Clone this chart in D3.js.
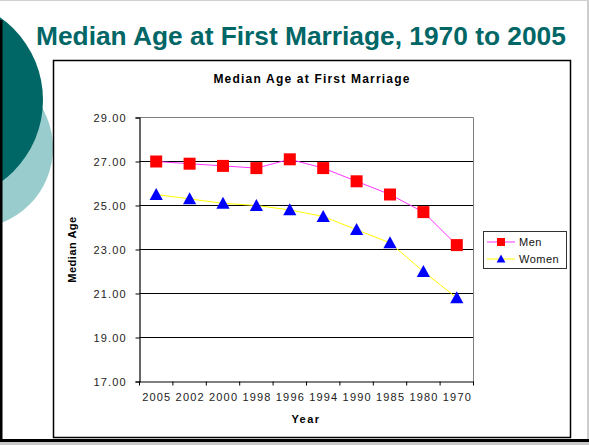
<!DOCTYPE html>
<html>
<head>
<meta charset="utf-8">
<script src="https://cdn.jsdelivr.net/npm/d3@7"></script>
<style>
  html, body { margin: 0; padding: 0; background: #fff; }
  svg { display: block; font-family: "Liberation Sans", Arial, sans-serif; }
</style>
</head>
<body>
<svg id="chart" width="589" height="445"></svg>
<script>
// Survey years, shown newest first
const years = ["2005", "2002", "2000", "1998", "1996", "1994", "1990", "1985", "1980", "1970"];
// Median age at first marriage
const men   = [27.0, 26.9, 26.8, 26.7, 27.1, 26.7, 26.1, 25.5, 24.7, 23.2];
const women = [25.5, 25.3, 25.1, 25.0, 24.8, 24.5, 23.9, 23.3, 22.0, 20.8];
const yTicks = [17, 19, 21, 23, 25, 27, 29];
const seriesNames = ["Men", "Women"];

const svg = d3.select("#chart");
const teal = "#006666";
const fontStack = "'Liberation Sans', Arial, sans-serif";

// Shrink or grow a text node's font size so it spans the given width
function fitWidth(sel, width) {
  const node = sel.node();
  const fs = parseFloat(sel.attr("font-size"));
  const w = node.getComputedTextLength();
  if (w > 0) sel.attr("font-size", (fs * width / w).toFixed(2));
}

// Slide decoration: two overlapping circles on the left edge
svg.append("circle").attr("cx", -27).attr("cy", 148).attr("r", 80).attr("fill", "#99CCCC");
svg.append("circle").attr("cx", -58).attr("cy", 100).attr("r", 101).attr("fill", teal);

// Slide frame edges
svg.append("rect").attr("x", 0).attr("y", 20).attr("width", 2.5).attr("height", 422).attr("fill", "#000");
svg.append("rect").attr("x", 0).attr("y", 439).attr("width", 589).attr("height", 3).attr("fill", "#000");
svg.append("rect").attr("x", 0).attr("y", 442).attr("width", 589).attr("height", 3).attr("fill", "#c8c8c8");
svg.append("line").attr("x1", 588).attr("x2", 588).attr("y1", 0).attr("y2", 439).attr("stroke", "#9a9a9a").attr("stroke-width", 1);
svg.append("line").attr("x1", 0).attr("x2", 589).attr("y1", 0.5).attr("y2", 0.5).attr("stroke", "#d0d0d0").attr("stroke-width", 1);

// Slide title
const slideTitle = svg.append("text")
  .attr("x", 36).attr("y", 45)
  .attr("fill", teal)
  .attr("font-weight", "bold")
  .attr("font-size", 27)
  .text("Median Age at First Marriage, 1970 to 2005");
fitWidth(slideTitle, 530);

// Chart frame
svg.append("rect")
  .attr("x", 53.5).attr("y", 60.5).attr("width", 517).attr("height", 377)
  .attr("fill", "#fff").attr("stroke", "#000").attr("stroke-width", 1.5);

// Chart title
svg.append("text")
  .attr("x", 312).attr("y", 83)
  .attr("text-anchor", "middle")
  .attr("font-weight", "bold").attr("font-size", 12).attr("letter-spacing", 1.2)
  .text("Median Age at First Marriage");

const plot = { left: 139.5, right: 473.5, top: 117.5, bottom: 381.5 };

const x = d3.scaleBand().domain(years).range([plot.left, plot.right]);
const y = d3.scaleLinear().domain([17, 29]).range([plot.bottom, plot.top]);

// Horizontal gridlines
svg.append("g")
  .selectAll("line")
  .data(yTicks.filter(t => t > 17 && t < 29))
  .join("line")
  .attr("x1", plot.left).attr("x2", plot.right)
  .attr("y1", d => y(d)).attr("y2", d => y(d))
  .attr("stroke", "#000").attr("stroke-width", 1);

// Plot area border (top and right)
svg.append("path")
  .attr("d", `M${plot.left},${plot.top}H${plot.right}V${plot.bottom}`)
  .attr("fill", "none").attr("stroke", "#808080").attr("stroke-width", 1);

// Y axis
const yAxis = svg.append("g")
  .attr("transform", `translate(${plot.left},0)`)
  .call(d3.axisLeft(y).tickValues(yTicks).tickFormat(d3.format(".2f")).tickSize(4));
yAxis.select(".domain").attr("stroke", "#000").attr("stroke-width", 1.2);
yAxis.selectAll(".tick line").attr("stroke", "#000");
yAxis.selectAll(".tick text")
  .attr("x", -14)
  .attr("text-anchor", "end")
  .attr("font-size", 11).attr("fill", "#222")
  .attr("font-family", fontStack)
  .attr("textLength", 32).attr("lengthAdjust", "spacing");

// X axis: labels centred in each band, ticks on band boundaries
const xAxis = svg.append("g")
  .attr("transform", `translate(0,${plot.bottom})`)
  .call(d3.axisBottom(x).tickSize(0).tickPadding(12));
xAxis.select(".domain").attr("stroke", "#000").attr("stroke-width", 1.2);
xAxis.selectAll(".tick text")
  .attr("font-size", 11).attr("fill", "#222")
  .attr("font-family", fontStack)
  .attr("textLength", 28).attr("lengthAdjust", "spacing");
const bounds = years.map(d => x(d)).concat([x(years[years.length - 1]) + x.bandwidth()]);
svg.append("g")
  .selectAll("line")
  .data(bounds)
  .join("line")
  .attr("x1", d => d).attr("x2", d => d)
  .attr("y1", plot.bottom).attr("y2", plot.bottom + 4)
  .attr("stroke", "#000");

// Axis titles
svg.append("text")
  .attr("x", 306).attr("y", 423)
  .attr("text-anchor", "middle")
  .attr("font-weight", "bold").attr("font-size", 11).attr("letter-spacing", 1.5)
  .text("Year");
svg.append("text")
  .attr("transform", `translate(76,${(plot.top + plot.bottom) / 2}) rotate(-90)`)
  .attr("text-anchor", "middle")
  .attr("font-weight", "bold").attr("font-size", 11).attr("letter-spacing", 0.5)
  .text("Median Age");

const cx = d => x(d) + x.bandwidth() / 2;
const line = d3.line().x(d => cx(d.year)).y(d => y(d.value));

const menData = years.map((yr, i) => ({ year: yr, value: men[i] }));
const womenData = years.map((yr, i) => ({ year: yr, value: women[i] }));

// Series lines
svg.append("path").datum(menData).attr("d", line)
  .attr("fill", "none").attr("stroke", "#FF33FF").attr("stroke-width", 1);
svg.append("path").datum(womenData).attr("d", line)
  .attr("fill", "none").attr("stroke", "#FFFF00").attr("stroke-width", 1);

const squareSym = d3.symbol().type(d3.symbolSquare).size(144);
const triPath = s => `M0,${-s * 0.55}L${s * 0.55},${s * 0.45}L${-s * 0.55},${s * 0.45}Z`;

// Markers
svg.append("g").selectAll("path").data(menData).join("path")
  .attr("transform", d => `translate(${cx(d.year)},${y(d.value)})`)
  .attr("d", squareSym).attr("fill", "#FF0000");
svg.append("g").selectAll("path").data(womenData).join("path")
  .attr("transform", d => `translate(${cx(d.year)},${y(d.value)})`)
  .attr("d", triPath(12)).attr("fill", "#0000FF");

// Legend
const legend = svg.append("g");
legend.append("rect")
  .attr("x", 483.5).attr("y", 231.5).attr("width", 83).attr("height", 37)
  .attr("fill", "#fff").attr("stroke", "#333").attr("stroke-width", 1);
const legendRows = [
  { name: seriesNames[0], color: "#FF33FF", mark: "square", yy: 242 },
  { name: seriesNames[1], color: "#FFFF00", mark: "tri", yy: 259 }
];
legendRows.forEach(r => {
  legend.append("line").attr("x1", 487).attr("x2", 515).attr("y1", r.yy).attr("y2", r.yy)
    .attr("stroke", r.color).attr("stroke-width", 1);
  if (r.mark === "square") {
    legend.append("path").attr("transform", `translate(501,${r.yy})`)
      .attr("d", d3.symbol().type(d3.symbolSquare).size(64)).attr("fill", "#FF0000");
  } else {
    legend.append("path").attr("transform", `translate(501,${r.yy})`)
      .attr("d", triPath(8)).attr("fill", "#0000FF");
  }
  legend.append("text").attr("x", 519).attr("y", r.yy + 4)
    .attr("font-size", 11).attr("letter-spacing", 0.5).attr("fill", "#111")
    .text(r.name);
});
</script>
</body>
</html>
